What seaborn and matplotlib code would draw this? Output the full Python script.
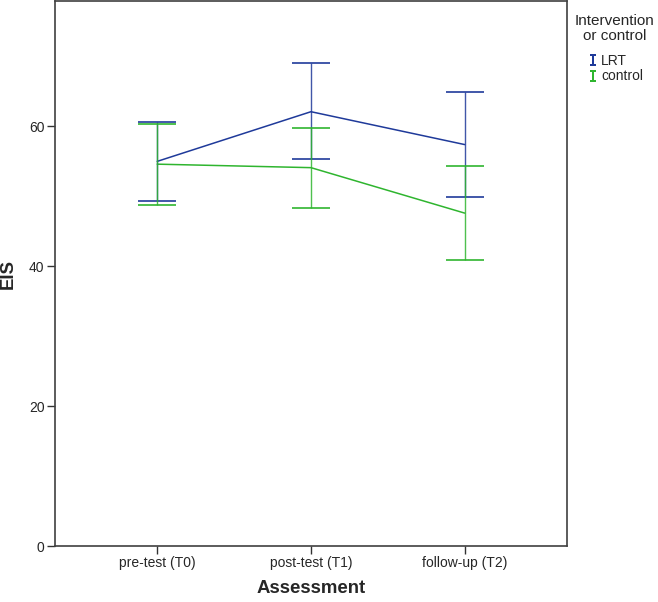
import matplotlib
matplotlib.use("Agg")
import matplotlib.pyplot as plt
from matplotlib.lines import Line2D
import seaborn as sns
import pandas as pd
import numpy as np

# values (means with 95% CI)
assessments = ["pre-test (T0)", "post-test (T1)", "follow-up (T2)"]
groups = ["LRT", "control"]
lrt_mean = [55.0, 62.1, 57.4]
lrt_low = [49.4, 55.3, 49.9]
lrt_high = [60.6, 69.1, 64.9]
ctl_mean = [54.6, 54.1, 47.6]
ctl_low = [48.7, 48.4, 40.9]
ctl_high = [60.4, 59.7, 54.3]

colors = {"LRT": "#1f3a9a", "control": "#2fb52f"}

df = pd.DataFrame({
    "Assessment": assessments * 2,
    "group": ["LRT"] * 3 + ["control"] * 3,
    "EIS": lrt_mean + ctl_mean,
    "low": lrt_low + ctl_low,
    "high": lrt_high + ctl_high,
})

sns.set_style("white")
plt.rcParams["font.family"] = ["Liberation Sans", "DejaVu Sans"]

fig = plt.figure(figsize=(6.58, 6.02), dpi=100)
ax = fig.add_axes([0.0836, 0.093, 0.778, 0.905])

sns.lineplot(data=df, x="Assessment", y="EIS", hue="group", hue_order=groups,
             palette=colors, legend=False, sort=False, linewidth=1.1, ax=ax)

for g in groups:
    sub = df[df["group"] == g]
    x = np.arange(len(sub))
    ax.errorbar(x, sub["EIS"], yerr=[sub["EIS"] - sub["low"], sub["high"] - sub["EIS"]],
                fmt="none", ecolor=colors[g], elinewidth=1.0, capsize=13.7, capthick=1.4,
                alpha=0.85)

ax.set_xlim(-0.665, 2.665)
ax.set_ylim(0, 77.9)
ax.set_yticks([0, 20, 40, 60])
ax.set_xlabel("Assessment", fontsize=13.4, fontweight="bold", va="top")
ax.set_ylabel("EIS", fontsize=13.4, fontweight="bold", va="center")
ax.xaxis.set_label_coords(0.5, -0.062)
ax.yaxis.set_label_coords(-0.0908, 0.5)
ax.tick_params(axis="both", direction="out", length=6, width=1, color="#333333",
               labelsize=10, pad=1.5, bottom=True, left=True)

for s in ax.spines.values():
    s.set_color("#404040")
    s.set_linewidth(1.2)

# legend title written separately so it can be centred above the entries
fig.text(615 / 658, 1 - 14 / 602, "Intervention\nor control", ha="center", va="top",
         fontsize=11, linespacing=1.05, multialignment="center")
handles = [Line2D([], [], linestyle="none", marker="$\\mathtt{I}$", markersize=8,
                  markeredgewidth=0, color=colors[g]) for g in groups]
fig.legend(handles, groups, loc="upper left", bbox_to_anchor=(587 / 658, 1 - 54 / 602),
           frameon=False, fontsize=10, handlelength=0.8, handletextpad=0.2,
           labelspacing=0.1, borderpad=0, borderaxespad=0)

fig.savefig("out.png", dpi=100)
